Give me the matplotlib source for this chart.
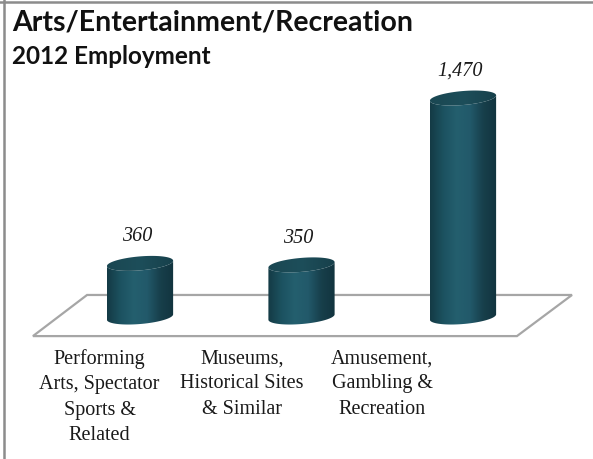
import numpy as np
import matplotlib
matplotlib.use("Agg")
import matplotlib.pyplot as plt
from matplotlib.path import Path
from matplotlib.patches import PathPatch, Polygon
from matplotlib.colors import LinearSegmentedColormap
from matplotlib.lines import Line2D

categories = [
    "Performing\nArts, Spectator\nSports &\nRelated",
    "Museums,\nHistorical Sites\n& Similar",
    "Amusement,\nGambling &\nRecreation",
]
employment = [360, 350, 1470]
value_labels = ["360", "350", "1,470"]

title = "Arts/Entertainment/Recreation"
subtitle = "2012 Employment"

W, H = 593, 459
fig = plt.figure(figsize=(W / 100, H / 100), dpi=100)
ax = fig.add_axes([0, 0, 1, 1])
ax.set_xlim(-0.867, 2.805)
ax.set_ylim(-953, 2128)
ax.axis("off")

# floor of the 3d plot area
n = len(categories)
floor = Polygon(
    [(-0.663, -128), (n - 1 + 0.334, -128), (n - 1 + 0.675, 148), (-0.328, 148)],
    closed=True, facecolor="white", edgecolor="#a6a6a6", lw=1.6, zorder=1,
)
ax.add_patch(floor)

body_cmap = LinearSegmentedColormap.from_list(
    "body", ["#143a45", "#1c5260", "#245f6e", "#22596a", "#173f4b", "#12343e"]
)
top_cmap = LinearSegmentedColormap.from_list(
    "top", ["#1a4752", "#1d4e5a", "#17404b"]
)

half_w = 0.205      # cylinder radius in category units
half_h = 47         # ellipse semi-minor axis in value units
tilt = 18           # slight rotation of the ellipses


def ellipse_pts(cx, cy, t):
    return np.column_stack([cx + half_w * np.cos(t), cy + half_h * np.sin(t) + tilt * np.cos(t)])


for i, val in enumerate(employment):
    cx = i
    base, top = 0, val
    # body outline: left edge down, front half of base ellipse, right edge up, front of top ellipse back
    t_bot = np.linspace(np.pi, 2 * np.pi, 60)
    t_top = np.linspace(0, -np.pi, 60)
    pts = np.vstack([ellipse_pts(cx, base, t_bot), ellipse_pts(cx, top, t_top)])
    body = Path(np.vstack([pts, pts[:1]]), closed=True)
    patch = PathPatch(body, facecolor="none", edgecolor="none", zorder=2)
    ax.add_patch(patch)
    grad = np.linspace(0, 1, 200).reshape(1, -1)
    im = ax.imshow(grad, cmap=body_cmap, aspect="auto", zorder=2,
                   extent=[cx - half_w, cx + half_w, base - half_h - tilt, top + half_h + tilt])
    im.set_clip_path(patch)

    # top cap
    t_cap = np.linspace(0, 2 * np.pi, 120)
    cap_path = Path(ellipse_pts(cx, top, t_cap), closed=True)
    cap = PathPatch(cap_path, facecolor="none", edgecolor="none", zorder=3)
    ax.add_patch(cap)
    im2 = ax.imshow(grad, cmap=top_cmap, aspect="auto", zorder=3,
                    extent=[cx - half_w, cx + half_w, top - half_h - tilt, top + half_h + tilt])
    im2.set_clip_path(cap)

    ax.text(cx - 0.02, top + 180, value_labels[i], ha="center", va="center",
            fontsize=14.5, style="italic", family="Liberation Serif", color="#1a1a1a", zorder=4)

label_x = [-0.25, 0.63, 1.50]
for x, lab in zip(label_x, categories):
    ax.text(x, -215, lab, ha="center", va="top", fontsize=14.5,
            family="Liberation Serif", color="#1a1a1a", linespacing=1.45)

fig.text(12 / W, 1 - 22 / H, title, ha="left", va="center", fontsize=20.5,
         fontweight="bold", family="Lato", color="#111111")
fig.text(12 / W, 1 - 57 / H, subtitle, ha="left", va="center", fontsize=17.5,
         fontweight="bold", family="Lato", color="#111111")

# frame on the top and left edges
fig.add_artist(Line2D([3.5 / W, 3.5 / W], [0, 1], color="#8c8c8c", lw=1.8, transform=fig.transFigure))
fig.add_artist(Line2D([0, 1], [1 - 1.5 / H, 1 - 1.5 / H], color="#8c8c8c", lw=1.8, transform=fig.transFigure))

fig.savefig("out.png", dpi=100, facecolor="white")
